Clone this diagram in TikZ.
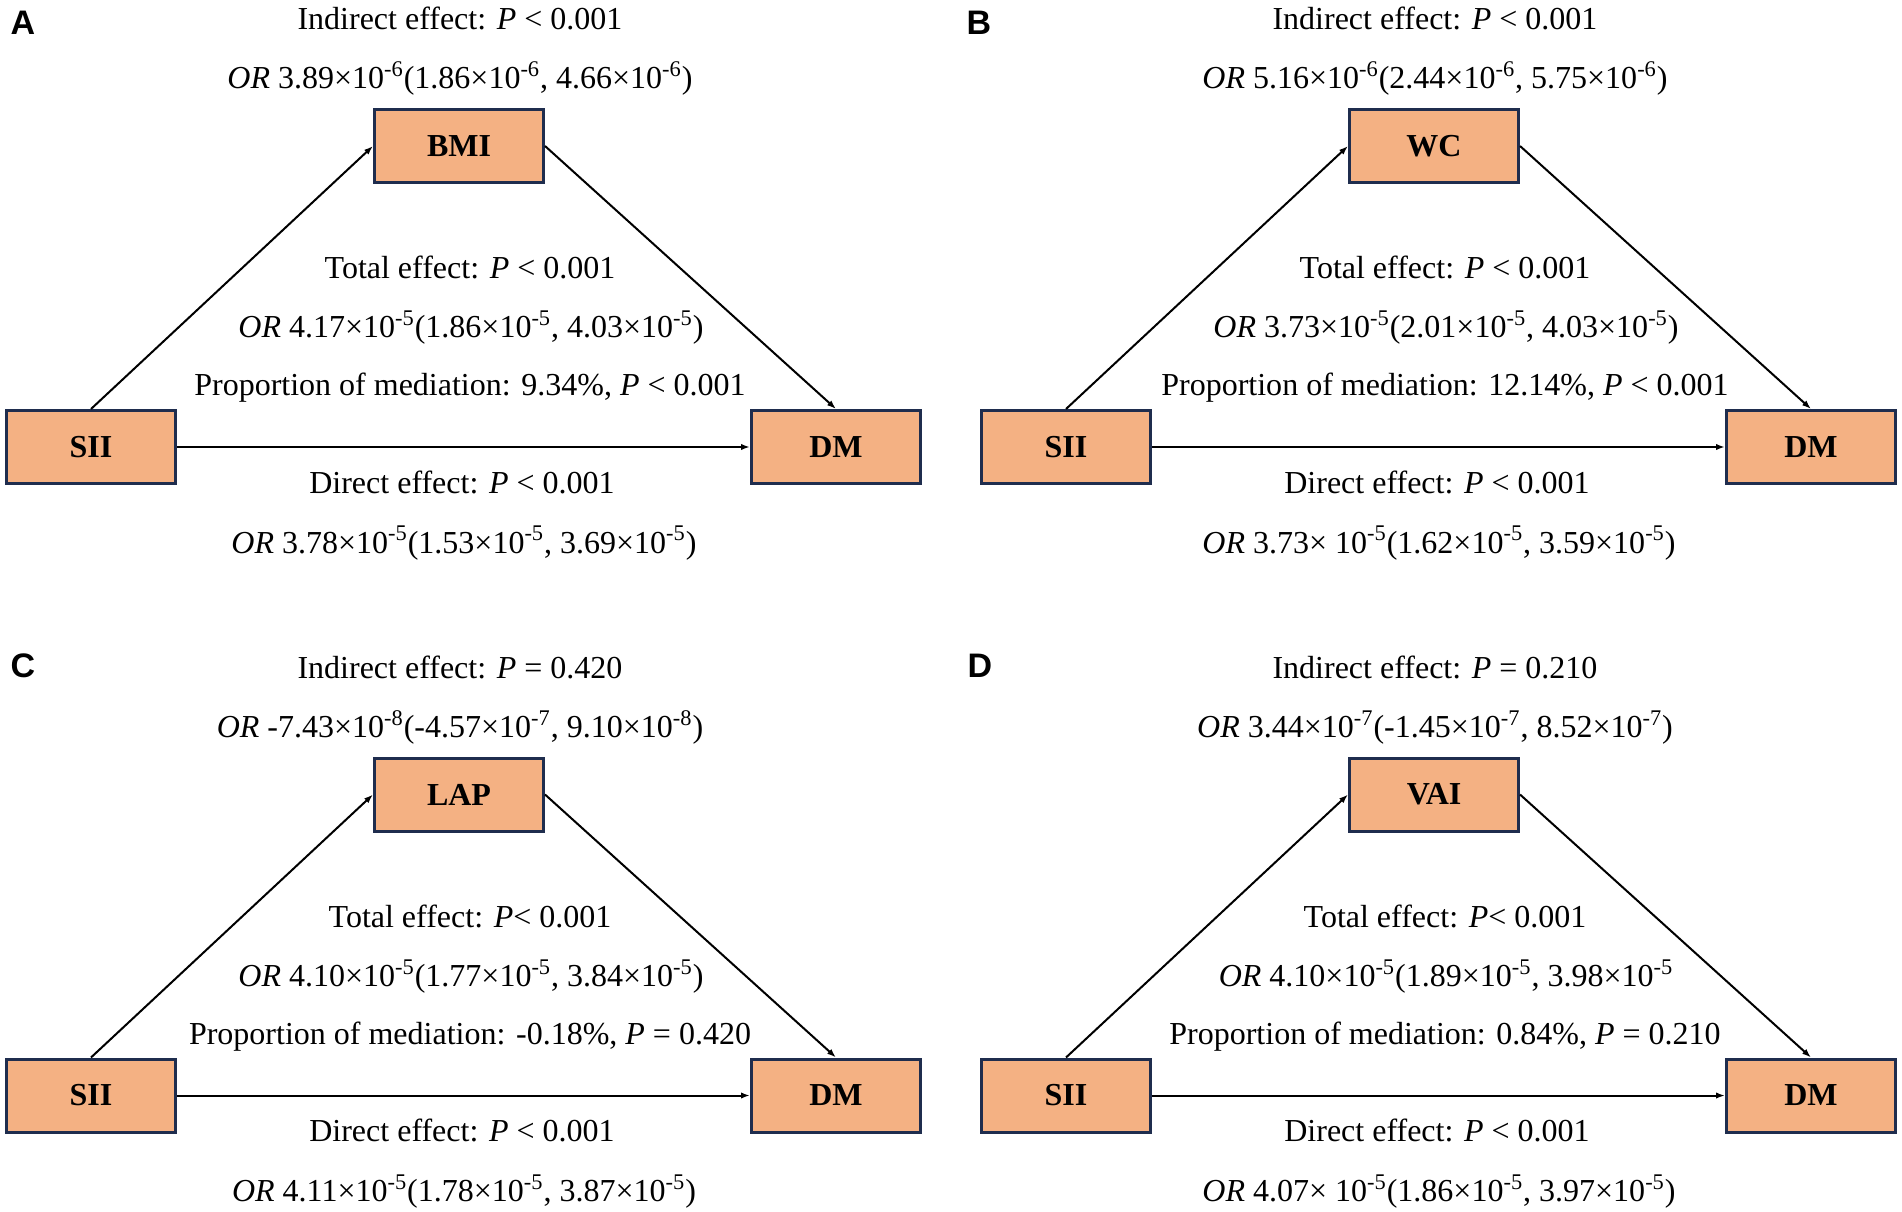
\documentclass[tikz,border=0pt]{standalone}
\usepackage{fontspec}
\setmainfont{Liberation Serif}
\newfontfamily\panelfont{Liberation Sans}
\usetikzlibrary{arrows.meta}
\definecolor{boxfill}{HTML}{F4B183}
\definecolor{boxline}{HTML}{1F2D4E}
\newcommand\tp[1]{10\textsuperscript{#1}}
\begin{document}
\begin{tikzpicture}[x=0.5bp,y=-0.5bp,
  varbox/.style={draw=boxline, fill=boxfill, line width=1.5bp, minimum width=84.5bp, minimum height=36.5bp, inner sep=0pt, font=\fontsize{16bp}{19bp}\selectfont\bfseries},
  lbl/.style={anchor=base, inner sep=0pt, font=\fontsize{16bp}{19bp}\selectfont},
  plab/.style={anchor=center, inner sep=0pt, font=\panelfont\fontsize{17bp}{19bp}\selectfont\bfseries},
  arr/.style={-{Latex[length=4.5bp,width=3.2bp]}, line width=1bp, black}]
\fill[white] (0,0) rectangle (1902,1212);
\useasboundingbox (0,0) rectangle (1902,1212);

% panel letters
\node[plab] (LA) at (23,23) {A};
\node[plab] (LB) at (979,23) {B};
\node[plab] (LC) at (23,666) {C};
\node[plab] (LD) at (980,666) {D};

% ---------- Panel A
\begin{scope}[shift={(0,0)}]
\node[varbox] (A-m) at (459,146) {BMI};
\node[varbox] (A-s) at (91,447) {SII};
\node[varbox] (A-d) at (836,447) {DM};
\draw[arr] (A-s.north) -- (A-m.west);
\draw[arr] (A-m.east) -- (A-d.north);
\draw[arr] (A-s.east) -- (A-d.west);
\node[lbl] (A-t1) at (460,30) {Indirect effect: \textit{P} < 0.001};
\node[lbl] (A-t2) at (460,89) {\textit{OR} 3.89×\tp{-6}(1.86×\tp{-6}, 4.66×\tp{-6})};
\node[lbl] (A-t3) at (470,279) {Total effect: \textit{P} < 0.001};
\node[lbl] (A-t4) at (471,338) {\textit{OR} 4.17×\tp{-5}(1.86×\tp{-5}, 4.03×\tp{-5})};
\node[lbl] (A-t5) at (470,396) {Proportion of mediation: 9.34\%, \textit{P} < 0.001};
\node[lbl] (A-t6) at (462,493) {Direct effect: \textit{P} < 0.001};
\node[lbl] (A-t7) at (464,553) {\textit{OR} 3.78×\tp{-5}(1.53×\tp{-5}, 3.69×\tp{-5})};
\end{scope}

% ---------- Panel B
\begin{scope}[shift={(975,0)}]
\node[varbox] (B-m) at (459,146) {WC};
\node[varbox] (B-s) at (91,447) {SII};
\node[varbox] (B-d) at (836,447) {DM};
\draw[arr] (B-s.north) -- (B-m.west);
\draw[arr] (B-m.east) -- (B-d.north);
\draw[arr] (B-s.east) -- (B-d.west);
\node[lbl] (B-t1) at (460,30) {Indirect effect: \textit{P} < 0.001};
\node[lbl] (B-t2) at (460,89) {\textit{OR} 5.16×\tp{-6}(2.44×\tp{-6}, 5.75×\tp{-6})};
\node[lbl] (B-t3) at (470,279) {Total effect: \textit{P} < 0.001};
\node[lbl] (B-t4) at (471,338) {\textit{OR} 3.73×\tp{-5}(2.01×\tp{-5}, 4.03×\tp{-5})};
\node[lbl] (B-t5) at (470,396) {Proportion of mediation: 12.14\%, \textit{P} < 0.001};
\node[lbl] (B-t6) at (462,493) {Direct effect: \textit{P} < 0.001};
\node[lbl] (B-t7) at (464,553) {\textit{OR} 3.73× \tp{-5}(1.62×\tp{-5}, 3.59×\tp{-5})};
\end{scope}

% ---------- Panel C
\begin{scope}[shift={(0,648.5)}]
\node[varbox] (C-m) at (459,146) {LAP};
\node[varbox] (C-s) at (91,447) {SII};
\node[varbox] (C-d) at (836,447) {DM};
\draw[arr] (C-s.north) -- (C-m.west);
\draw[arr] (C-m.east) -- (C-d.north);
\draw[arr] (C-s.east) -- (C-d.west);
\node[lbl] (C-t1) at (460,30) {Indirect effect: \textit{P} = 0.420};
\node[lbl] (C-t2) at (460,89) {\textit{OR} -7.43×\tp{-8}(-4.57×\tp{-7}, 9.10×\tp{-8})};
\node[lbl] (C-t3) at (470,279) {Total effect: \textit{P}< 0.001};
\node[lbl] (C-t4) at (471,338) {\textit{OR} 4.10×\tp{-5}(1.77×\tp{-5}, 3.84×\tp{-5})};
\node[lbl] (C-t5) at (470,396) {Proportion of mediation: -0.18\%, \textit{P} = 0.420};
\node[lbl] (C-t6) at (462,493) {Direct effect: \textit{P} < 0.001};
\node[lbl] (C-t7) at (464,553) {\textit{OR} 4.11×\tp{-5}(1.78×\tp{-5}, 3.87×\tp{-5})};
\end{scope}

% ---------- Panel D
\begin{scope}[shift={(975,648.5)}]
\node[varbox] (D-m) at (459,146) {VAI};
\node[varbox] (D-s) at (91,447) {SII};
\node[varbox] (D-d) at (836,447) {DM};
\draw[arr] (D-s.north) -- (D-m.west);
\draw[arr] (D-m.east) -- (D-d.north);
\draw[arr] (D-s.east) -- (D-d.west);
\node[lbl] (D-t1) at (460,30) {Indirect effect: \textit{P} = 0.210};
\node[lbl] (D-t2) at (460,89) {\textit{OR} 3.44×\tp{-7}(-1.45×\tp{-7}, 8.52×\tp{-7})};
\node[lbl] (D-t3) at (470,279) {Total effect: \textit{P}< 0.001};
\node[lbl] (D-t4) at (471,338) {\textit{OR} 4.10×\tp{-5}(1.89×\tp{-5}, 3.98×\tp{-5}};
\node[lbl] (D-t5) at (470,396) {Proportion of mediation: 0.84\%, \textit{P} = 0.210};
\node[lbl] (D-t6) at (462,493) {Direct effect: \textit{P} < 0.001};
\node[lbl] (D-t7) at (464,553) {\textit{OR} 4.07× \tp{-5}(1.86×\tp{-5}, 3.97×\tp{-5})};
\end{scope}
\end{tikzpicture}
\end{document}
